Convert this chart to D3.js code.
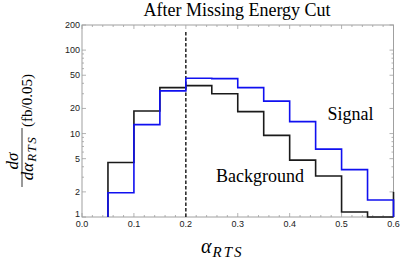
<!DOCTYPE html>
<html>
<head>
<meta charset="utf-8">
<script src="https://cdn.jsdelivr.net/npm/d3@7"></script>
<style>
  body { margin: 0; background: #fff; }
  svg { display: block; }
</style>
</head>
<body>
<svg id="chart" width="415" height="262"></svg>
<script>
'use strict';

// bin edges (alpha_RTS), 0.05 wide
const binEdges = [0.05, 0.10, 0.15, 0.20, 0.25, 0.30, 0.35, 0.40, 0.45, 0.50, 0.55, 0.60];
// fb / 0.05
const background = [4.5, 18.6, 35.5, 37.5, 30.0, 18.3, 9.5, 4.8, 3.1, 1.15, 1.0];
const signal = [1.95, 12.8, 32.5, 46.0, 45.5, 35.5, 24.5, 13.9, 6.5, 3.7, 1.6];
const backgroundEndEdge = 2.0;   // stray closing edge of the background outline at 0.6
const xTicks = [0.0, 0.1, 0.2, 0.3, 0.4, 0.5, 0.6];
const yTicks = [1, 2, 5, 10, 20, 50, 100, 200];
const cutValue = 0.2;
const cutTop = 165;

const svg = d3.select('#chart');
const x = d3.scaleLinear().domain([0, 0.6]).range([82, 393.5]);
const y = d3.scaleLog().domain([1, 200]).range([217, 25]);

const frameColor = '#a0a0a0';
const labelColor = '#222';

// frame
svg.append('rect')
    .attr('x', x(0)).attr('y', y(200))
    .attr('width', x(0.6) - x(0)).attr('height', y(1) - y(200))
    .attr('fill', 'none').attr('stroke', frameColor).attr('stroke-width', 1);

// minor ticks
const xMinor = d3.range(0, 0.6001, 0.02).filter(v => Math.abs(v * 10 - Math.round(v * 10)) > 1e-6);
const yMinor = [];
[1, 10, 100].forEach(d => [3, 4, 6, 7, 8, 9].forEach(m => { if (m * d < 200) yMinor.push(m * d); }));

const tickG = svg.append('g').attr('stroke', frameColor).attr('stroke-width', 0.8);
function xTick(v, len) {
    tickG.append('line').attr('x1', x(v)).attr('x2', x(v)).attr('y1', y(1)).attr('y2', y(1) - len);
    tickG.append('line').attr('x1', x(v)).attr('x2', x(v)).attr('y1', y(200)).attr('y2', y(200) + len);
}
function yTick(v, len) {
    tickG.append('line').attr('y1', y(v)).attr('y2', y(v)).attr('x1', x(0)).attr('x2', x(0) + len);
    tickG.append('line').attr('y1', y(v)).attr('y2', y(v)).attr('x1', x(0.6)).attr('x2', x(0.6) - len);
}
xTicks.forEach(v => xTick(v, 4));
xMinor.forEach(v => xTick(v, 2));
yTicks.forEach(v => yTick(v, 4));
yMinor.forEach(v => yTick(v, 2));

// tick labels
svg.append('g').selectAll('text').data(xTicks).join('text')
    .attr('x', d => x(d)).attr('y', y(1) + 10)
    .attr('text-anchor', 'middle')
    .attr('font-family', 'Liberation Sans, Arial, sans-serif').attr('font-size', 9)
    .attr('fill', labelColor)
    .text(d => d.toFixed(1));

svg.append('g').selectAll('text').data(yTicks).join('text')
    .attr('x', x(0) - 2).attr('y', d => d === 1 ? y(d) + 0 : y(d) + 3)
    .attr('text-anchor', 'end')
    .attr('font-family', 'Liberation Sans, Arial, sans-serif').attr('font-size', 9)
    .attr('fill', labelColor)
    .text(d => d);

// step outline of a histogram, starting and ending on the floor of the axis
function stepPath(values) {
    const pts = [[binEdges[0], 1]];
    values.forEach((v, i) => {
        pts.push([binEdges[i], v]);
        pts.push([binEdges[i + 1], v]);
    });
    pts.push([binEdges[values.length], 1]);
    return d3.line().x(d => x(d[0])).y(d => y(d[1]))(pts);
}

// cut line
svg.append('line')
    .attr('x1', x(cutValue)).attr('x2', x(cutValue))
    .attr('y1', y(cutTop)).attr('y2', y(1))
    .attr('stroke', '#222').attr('stroke-width', 1.5)
    .attr('stroke-dasharray', '3.5,2');

svg.append('path')
    .attr('d', stepPath(background))
    .attr('fill', 'none').attr('stroke', '#1a1a1a').attr('stroke-width', 1.6);

svg.append('line')
    .attr('x1', x(binEdges[binEdges.length - 1])).attr('x2', x(binEdges[binEdges.length - 1]))
    .attr('y1', y(1)).attr('y2', y(backgroundEndEdge))
    .attr('stroke', '#1a1a1a').attr('stroke-width', 1.6);

svg.append('path')
    .attr('d', stepPath(signal))
    .attr('fill', 'none').attr('stroke', '#1010f0').attr('stroke-width', 1.6);

// texts
const serif = 'Liberation Serif, Times New Roman, serif';
svg.append('text')
    .attr('x', 237).attr('y', 15.5).attr('text-anchor', 'middle')
    .attr('font-family', serif).attr('font-size', 18)
    .text('After Missing Energy Cut');

svg.append('text')
    .attr('x', 327.5).attr('y', 120)
    .attr('font-family', serif).attr('font-size', 18)
    .text('Signal');

svg.append('text')
    .attr('x', 216).attr('y', 181.5)
    .attr('font-family', serif).attr('font-size', 18)
    .text('Background');

// x axis label
const xl = svg.append('text')
    .attr('x', 201).attr('y', 253)
    .attr('font-family', serif).attr('font-style', 'italic');
xl.append('tspan').attr('font-size', 20).text('α');
xl.append('tspan').attr('font-size', 15).attr('dy', 4).attr('dx', 1)
    .attr('letter-spacing', 2).text('RTS');

// y axis label (rotated)
const yl = svg.append('g')
    .attr('font-family', serif)
    .attr('transform', 'translate(22,130) rotate(-90)');
yl.append('line')
    .attr('x1', -57).attr('x2', 2).attr('y1', 0).attr('y2', 0)
    .attr('stroke', '#000').attr('stroke-width', 0.8);
yl.append('text')
    .attr('x', -31).attr('y', -4).attr('text-anchor', 'middle')
    .attr('font-style', 'italic').attr('font-size', 17)
    .text('dσ');
const den = yl.append('text')
    .attr('x', -28).attr('y', 11).attr('text-anchor', 'middle')
    .attr('font-style', 'italic');
den.append('tspan').attr('font-size', 17).text('dα');
den.append('tspan').attr('font-size', 13).attr('dy', 3).attr('dx', 1)
    .attr('letter-spacing', 1.5).text('RTS');
yl.append('text')
    .attr('x', 3).attr('y', 9.5)
    .attr('font-size', 15)
    .text('(fb/0.05)');
</script>
</body>
</html>
